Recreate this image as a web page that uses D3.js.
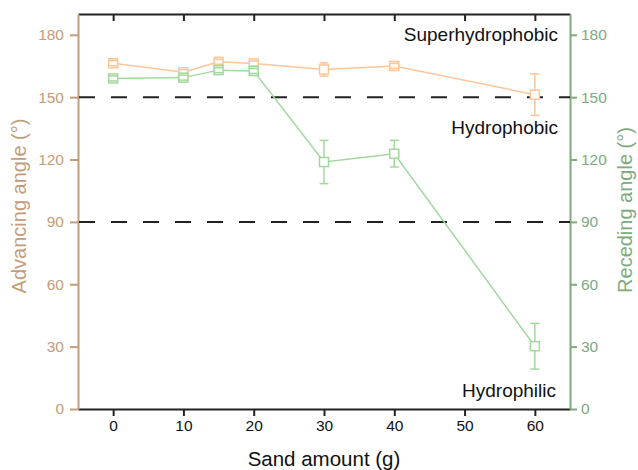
<!DOCTYPE html>
<html>
<head>
<meta charset="utf-8">
<script src="https://cdn.jsdelivr.net/npm/d3@7"></script>
<style>
  body { margin: 0; background: #fff; }
  text { font-family: "Liberation Sans", Arial, sans-serif; }
</style>
</head>
<body>
<div id="chart"></div>
<script>
var sand = [0, 10, 15, 20, 30, 40, 60];
var advancing = [166.3, 162, 167, 166.2, 163.3, 165, 151.2];
var advancingErr = [1.2, 1.2, 1.2, 1.2, 3.2, 1.2, 10];
var receding = [159, 159.4, 163, 162.6, 118.8, 122.8, 30.2];
var recedingErr = [1.2, 1.2, 1.2, 1.2, 10.4, 6.4, 11];
var xTicks = [0, 10, 20, 30, 40, 50, 60];
var yTicks = [0, 30, 60, 90, 120, 150, 180];
var thresholds = [150, 90];
var zones = [
  {label: "Superhydrophobic", y: 180, dx: 12},
  {label: "Hydrophobic", y: 135, dx: 12},
  {label: "Hydrophilic", y: 8.5, dx: 14}
];

var margin = {top: 14, right: 68, bottom: 61, left: 78},
    totalWidth = 638,
    totalHeight = 470,
    width = totalWidth - margin.left - margin.right,
    height = totalHeight - margin.top - margin.bottom;

var tan = "#c29d7a", tanLine = "#fbc699",
    green = "#7eaa7e", greenLine = "#a3d89d";

var svg = d3.select("#chart")
    .append("svg")
    .attr("width", totalWidth)
    .attr("height", totalHeight);

var chartgroup = svg.append("g")
    .attr("transform", "translate(" + margin.left + "," + margin.top + ")");

var x = d3.scaleLinear().domain([-5, 65]).range([0, width]);
var y = d3.scaleLinear().domain([0, 190]).range([height, 0]);

// axes
var bottom = chartgroup.append("g")
    .attr("transform", "translate(0," + height + ")")
    .call(d3.axisBottom(x).tickValues(xTicks).tickSize(7).tickPadding(4).tickSizeOuter(0));
var top_ = chartgroup.append("g")
    .call(d3.axisTop(x).tickValues(xTicks).tickSize(-7).tickFormat("").tickSizeOuter(0));
[bottom, top_].forEach(g => {
  g.selectAll("path, line").attr("stroke", "#222").attr("stroke-width", 2);
  g.selectAll("text").style("font-size", "15.5px").attr("fill", "#111");
});

var left = chartgroup.append("g")
    .call(d3.axisLeft(y).tickValues(yTicks).tickSize(8).tickPadding(6).tickSizeOuter(0));
left.selectAll("path, line").attr("stroke", tan).attr("stroke-width", 2);
left.selectAll("text").style("font-size", "15.5px").attr("fill", tan);

var right = chartgroup.append("g")
    .attr("transform", "translate(" + width + ",0)")
    .call(d3.axisRight(y).tickValues(yTicks).tickSize(7).tickPadding(4).tickSizeOuter(0));
right.selectAll("path, line").attr("stroke", green).attr("stroke-width", 2);
right.selectAll("text").style("font-size", "15.5px").attr("fill", green);

// threshold lines
chartgroup.selectAll(".thr")
    .data(thresholds)
    .enter()
    .append("line")
    .attr("x1", 1).attr("x2", width)
    .attr("y1", d => y(d)).attr("y2", d => y(d))
    .attr("stroke", "#222")
    .attr("stroke-width", 2)
    .attr("stroke-dasharray", "16,16");

function series(vals, errs, col) {
  var pts = sand.map((s, i) => ({x: s, y: vals[i], e: errs[i]}));
  var g = chartgroup.append("g");
  g.append("path")
    .datum(pts)
    .attr("d", d3.line().x(d => x(d.x)).y(d => y(d.y)))
    .attr("fill", "none")
    .attr("stroke", col)
    .attr("stroke-width", 1.5);
  g.selectAll("line.err")
    .data(pts)
    .enter()
    .append("line")
    .attr("x1", d => x(d.x)).attr("x2", d => x(d.x))
    .attr("y1", d => y(d.y - d.e)).attr("y2", d => y(d.y + d.e))
    .attr("stroke", col).attr("stroke-width", 1.5);
  g.selectAll("rect")
    .data(pts)
    .enter()
    .append("rect")
    .attr("x", d => x(d.x) - 4.5)
    .attr("y", d => y(d.y) - 4.5)
    .attr("width", 9).attr("height", 9)
    .attr("fill", "#fff")
    .attr("stroke", col)
    .attr("stroke-width", 1.5);
  [1, -1].forEach(sgn => {
    g.selectAll("line.cap" + sgn)
      .data(pts)
      .enter()
      .append("line")
      .attr("x1", d => x(d.x) - 4.5).attr("x2", d => x(d.x) + 4.5)
      .attr("y1", d => y(d.y + sgn * d.e)).attr("y2", d => y(d.y + sgn * d.e))
      .attr("stroke", col).attr("stroke-width", 1.5);
  });
}
series(advancing, advancingErr, tanLine);
series(receding, recedingErr, greenLine);

// zone labels
chartgroup.selectAll(".zone")
    .data(zones)
    .enter()
    .append("text")
    .text(d => d.label)
    .attr("x", d => width - d.dx)
    .attr("y", d => y(d.y) + 6)
    .attr("text-anchor", "end")
    .style("font-size", "19px")
    .style("fill", "#111");

// axis titles
svg.append("text")
    .text("Sand amount (g)")
    .attr("x", margin.left + x(30))
    .attr("y", 466)
    .attr("text-anchor", "middle")
    .style("font-size", "20.5px")
    .style("fill", "#111");

svg.append("text")
    .text("Advancing angle (°)")
    .attr("transform", "translate(26,206) rotate(-90)")
    .attr("text-anchor", "middle")
    .style("font-size", "20px")
    .style("fill", tan);

svg.append("text")
    .text("Receding angle (°)")
    .attr("transform", "translate(632,210) rotate(-90)")
    .attr("text-anchor", "middle")
    .style("font-size", "20px")
    .style("fill", green);
</script>
</body>
</html>
